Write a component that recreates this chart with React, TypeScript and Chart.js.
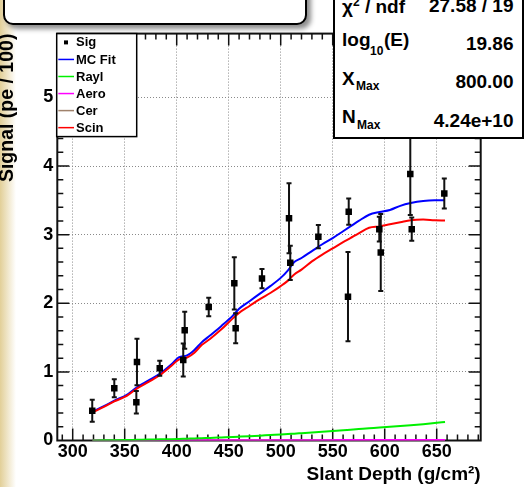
import React, { useEffect, useRef } from 'react';
import { Chart, registerables } from 'chart.js';
Chart.register(...registerables);

const FONT = "'Liberation Sans', Arial, Helvetica, sans-serif";

// Measured signal points (slant depth, signal, error)
const sigX = [318.8, 340, 361.2, 361.8, 383.7, 406.3, 407.7, 430.8, 455.4, 456.7, 482, 508, 509.2, 536.2, 564.7, 565.4, 594.8, 596.2, 624.6, 626, 657.3];
const sigY = [0.434, 0.761, 0.557, 1.144, 1.052, 1.173, 1.606, 1.946, 2.29, 1.636, 2.36, 3.24, 2.59, 2.97, 2.096, 3.335, 3.08, 2.74, 3.885, 3.08, 3.6];
const sigErr = [0.16, 0.13, 0.165, 0.34, 0.11, 0.24, 0.27, 0.136, 0.38, 0.22, 0.14, 0.51, 0.25, 0.17, 0.65, 0.19, 0.18, 0.56, 0.6, 0.17, 0.22];

// Simulated curves
const curveX = [319, 330, 340, 352, 362, 373, 384, 395, 402, 410, 417, 424, 432, 443, 454, 460, 470, 480, 490, 500, 507, 513, 520, 530, 540, 550, 560, 567, 575, 585, 595, 605, 615, 625, 637, 648, 658];
const mcFit = [0.42, 0.5, 0.58, 0.665, 0.78, 0.875, 0.975, 1.11, 1.21, 1.24, 1.32, 1.43, 1.53, 1.67, 1.82, 1.92, 2.03, 2.14, 2.25, 2.37, 2.48, 2.6, 2.66, 2.76, 2.86, 2.95, 3.05, 3.12, 3.2, 3.29, 3.33, 3.36, 3.42, 3.46, 3.49, 3.5, 3.5];
const scin = [0.41, 0.49, 0.57, 0.65, 0.76, 0.855, 0.955, 1.09, 1.18, 1.21, 1.28, 1.39, 1.48, 1.62, 1.78, 1.86, 1.96, 2.06, 2.15, 2.25, 2.33, 2.42, 2.49, 2.61, 2.71, 2.8, 2.89, 2.95, 3.02, 3.1, 3.12, 3.15, 3.18, 3.21, 3.22, 3.21, 3.205];
const rayl = [0, 0.002, 0.004, 0.007, 0.01, 0.013, 0.017, 0.02, 0.023, 0.027, 0.03, 0.034, 0.038, 0.045, 0.052, 0.056, 0.063, 0.071, 0.08, 0.088, 0.095, 0.1, 0.107, 0.117, 0.128, 0.139, 0.15, 0.158, 0.167, 0.178, 0.19, 0.2, 0.21, 0.222, 0.238, 0.255, 0.27];
const aero = [0.001, 0.001, 0.001, 0.001, 0.002, 0.002, 0.002, 0.002, 0.002, 0.003, 0.003, 0.003, 0.003, 0.003, 0.003, 0.004, 0.004, 0.004, 0.004, 0.004, 0.005, 0.005, 0.005, 0.005, 0.005, 0.005, 0.006, 0.006, 0.006, 0.006, 0.006, 0.006, 0.007, 0.007, 0.007, 0.007, 0.007];
const cer = [0.001, 0.001, 0.001, 0.001, 0.001, 0.001, 0.001, 0.001, 0.001, 0.001, 0.001, 0.001, 0.002, 0.002, 0.002, 0.002, 0.002, 0.002, 0.002, 0.002, 0.002, 0.002, 0.002, 0.002, 0.002, 0.002, 0.002, 0.002, 0.002, 0.002, 0.002, 0.002, 0.002, 0.002, 0.002, 0.002, 0.002];

const xMin = 285.2, xMax = 692.3, yMin = 0, yMax = 5.93;
const xMajorStep = 50, xMinorStep = 10, yMajorStep = 1, yMinorStep = 0.2;

const pts = (ys: number[]) => curveX.map((x, i) => ({ x, y: ys[i] }));

const errorBarPlugin = {
  id: 'errorBars',
  beforeDatasetDraw(chart: any, args: any) {
    if (args.index !== 0) return;
    const { ctx } = chart;
    const xs = chart.scales.x, ys = chart.scales.y;
    ctx.save();
    ctx.strokeStyle = '#111';
    ctx.lineWidth = 2;
    sigX.forEach((xv, i) => {
      const px = xs.getPixelForValue(xv);
      const p1 = ys.getPixelForValue(sigY[i] + sigErr[i]);
      const p2 = ys.getPixelForValue(sigY[i] - sigErr[i]);
      ctx.beginPath();
      ctx.moveTo(px, p1); ctx.lineTo(px, p2);
      ctx.moveTo(px - 2.5, p1); ctx.lineTo(px + 2.5, p1);
      ctx.moveTo(px - 2.5, p2); ctx.lineTo(px + 2.5, p2);
      ctx.stroke();
    });
    ctx.restore();
  },
};

const framePlugin = {
  id: 'rootFrame',
  beforeDatasetsDraw(chart: any) {
    const { ctx, chartArea: a } = chart;
    const xs = chart.scales.x, ys = chart.scales.y;
    ctx.save();
    ctx.strokeStyle = '#111';
    ctx.lineWidth = 1.5;
    ctx.beginPath();
    for (let v = Math.ceil(xMin / xMinorStep) * xMinorStep; v <= xMax; v += xMinorStep) {
      const px = xs.getPixelForValue(v);
      const len = v % xMajorStep === 0 ? 12 : 6;
      ctx.moveTo(px, a.bottom); ctx.lineTo(px, a.bottom - len);
      ctx.moveTo(px, a.top); ctx.lineTo(px, a.top + len);
    }
    for (let k = 1; k * yMinorStep < yMax; k++) {
      const v = k * yMinorStep;
      const py = ys.getPixelForValue(v);
      const len = k % Math.round(yMajorStep / yMinorStep) === 0 ? 12 : 6;
      ctx.moveTo(a.left, py); ctx.lineTo(a.left + len, py);
      ctx.moveTo(a.right, py); ctx.lineTo(a.right - len, py);
    }
    ctx.stroke();
    ctx.lineWidth = 2;
    ctx.strokeRect(a.left, a.top, a.right - a.left, a.bottom - a.top);
    ctx.restore();
  },
  afterDatasetsDraw(chart: any) {
    const { ctx, chartArea: a } = chart;
    ctx.save();
    // legend
    const lx = 56.7, ly = a.top, lw = 80, lh = 103;
    ctx.fillStyle = '#fff';
    ctx.fillRect(lx, ly, lw, lh);
    ctx.lineWidth = 1.5;
    ctx.strokeStyle = '#000';
    ctx.strokeRect(lx, ly, lw, lh);
    ctx.font = `bold 13px ${FONT}`;
    ctx.textBaseline = 'middle';
    chart.data.datasets.forEach((ds: any, i: number) => {
      const cy = ly + 8.8 + i * 17.05;
      if (i === 0) {
        ctx.fillStyle = '#000';
        ctx.fillRect(64, cy - 2, 4, 4);
      } else {
        ctx.strokeStyle = ds.borderColor;
        ctx.lineWidth = 1.5;
        ctx.beginPath();
        ctx.moveTo(58.3, cy); ctx.lineTo(74, cy);
        ctx.stroke();
      }
      ctx.fillStyle = '#000';
      ctx.fillText(ds.label, 76, cy + 0.5);
    });
    ctx.restore();
  },
};

export default function App() {
  const ref = useRef<HTMLCanvasElement>(null);
  useEffect(() => {
    if (!ref.current) return;
    const tickFont = { family: FONT, size: 18, weight: 'bold' as const };
    const line = (label: string, ys: number[], color: string, order: number) => ({
      type: 'line' as const, label, data: pts(ys), borderColor: color, backgroundColor: color,
      borderWidth: 2, pointRadius: 0, cubicInterpolationMode: 'monotone' as const, fill: false, order,
    });
    const chart = new Chart(ref.current, {
      type: 'scatter',
      data: {
        datasets: [
          { type: 'scatter', label: 'Sig', data: sigX.map((x, i) => ({ x, y: sigY[i] })), pointStyle: 'rect', pointRadius: 4.6, pointBackgroundColor: '#000', pointBorderColor: '#000', pointBorderWidth: 0, order: 0 } as any,
          line('MC Fit', mcFit, '#0000ff', 2),
          line('Rayl', rayl, '#00f000', 3),
          line('Aero', aero, '#ff00ff', 4),
          line('Cer', cer, '#a0826c', 5),
          line('Scin', scin, '#ff0000', 1),
        ],
      },
      options: {
        responsive: false,
        animation: false,
        devicePixelRatio: 1,
        layout: { padding: { left: 0, top: 33.6, right: 46.3, bottom: 0 } },
        plugins: { legend: { display: false }, tooltip: { enabled: false } },
        scales: {
          x: {
            type: 'linear', min: xMin, max: xMax,
            afterFit: (s: any) => { s.height = 46.5; },
            ticks: { stepSize: xMajorStep, includeBounds: false, autoSkip: false, maxRotation: 0, font: tickFont, color: '#000', padding: 1 },
            grid: { drawTicks: false, color: '#8a8a8a', lineWidth: 1 },
            border: { display: false, dash: [1, 2] },
            title: { display: true, text: 'Slant Depth (g/cm²)', align: 'end', color: '#000', font: { family: FONT, size: 19, weight: 'bold' }, padding: { top: 0, bottom: 0.6 } },
          },
          y: {
            type: 'linear', min: yMin, max: yMax,
            afterFit: (s: any) => { s.width = 57.3; },
            ticks: { stepSize: yMajorStep, includeBounds: false, font: tickFont, color: '#000', padding: 4 },
            grid: { drawTicks: false, color: '#8a8a8a', lineWidth: 1 },
            border: { display: false, dash: [1, 2] },
            title: { display: true, text: 'Signal (pe / 100)', align: 'end', color: '#000', font: { family: FONT, size: 19.5, weight: 'bold', lineHeight: 1 }, padding: { top: -2.5, bottom: 0 } },
          },
        },
      } as any,
      plugins: [errorBarPlugin, framePlugin],
    });
    return () => chart.destroy();
  }, []);

  const fs = 19;
  const lab = (top: number): React.CSSProperties => ({ position: 'absolute', left: 342, top, fontSize: fs, lineHeight: '1', fontWeight: 'bold', whiteSpace: 'nowrap' });
  const val = (top: number): React.CSSProperties => ({ position: 'absolute', right: 13.5, top, fontSize: fs, lineHeight: '1', fontWeight: 'bold', whiteSpace: 'nowrap' });
  const sub = (left: number, top: number): React.CSSProperties => ({ position: 'absolute', left, top, fontSize: 12, lineHeight: '1', fontWeight: 'bold', whiteSpace: 'nowrap' });
  // baseline = top + 0.8465*fs
  const b = (baseline: number, size = fs) => baseline - 0.8465 * size;

  return (
    <div style={{ position: 'absolute', left: 0, top: 0, width: 527, height: 487, overflow: 'hidden', background: '#fff', fontFamily: FONT, color: '#000' }}>
      <div style={{ position: 'absolute', left: 0, top: 0, width: 16, height: 487, background: 'linear-gradient(to right, #e2cf98 0%, rgba(255,255,255,0) 100%)' }} />
      <canvas ref={ref} width={527} height={487} style={{ position: 'absolute', left: 0, top: 0, width: 527, height: 487 }} />
      <div style={{ position: 'absolute', left: 3, top: -30, width: 304, height: 55, boxSizing: 'border-box', border: '2.5px solid #000', borderRadius: 10, background: '#fff', boxShadow: '4px 4px 5px rgba(0,0,0,0.45)' }} />
      <div style={{ position: 'absolute', left: 333, top: -30, width: 191, height: 168.5, boxSizing: 'border-box', border: '2px solid #000', background: '#fff' }} />
      <span style={lab(b(11.7))}>χ<span style={{ fontSize: 12, verticalAlign: '7px' }}>2</span> / ndf</span>
      <span style={val(b(11.7))}>27.58 / 19</span>
      <span style={lab(b(46))}>log</span>
      <span style={sub(370, b(55, 12))}>10</span>
      <span style={{ ...lab(b(46)), left: 384 }}>(E)</span>
      <span style={val(b(50))}>19.86</span>
      <span style={lab(b(85))}>X</span>
      <span style={sub(356, b(90.5, 12))}>Max</span>
      <span style={val(b(88.3))}>800.00</span>
      <span style={lab(b(123.3))}>N</span>
      <span style={sub(357, b(128.7, 12))}>Max</span>
      <span style={val(b(126.7))}>4.24e+10</span>
    </div>
  );
}
